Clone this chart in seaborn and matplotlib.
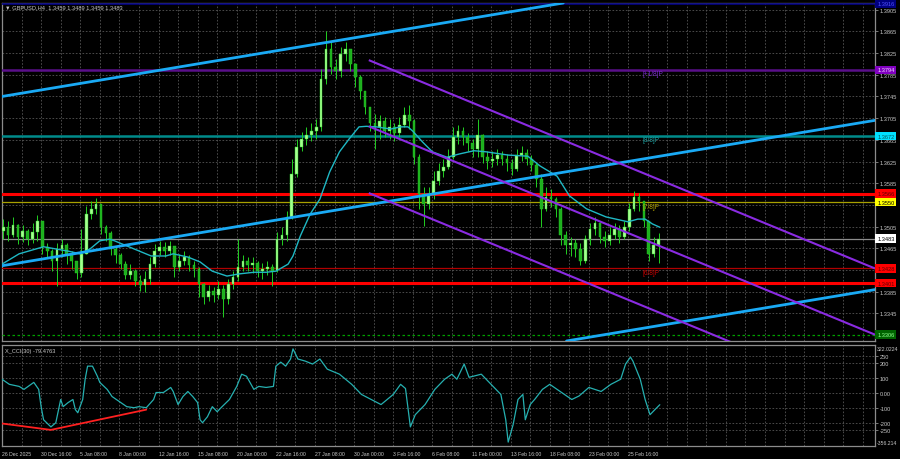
import matplotlib
matplotlib.use("Agg")
import matplotlib.pyplot as plt
import matplotlib.transforms as mtransforms
import numpy as np
import pandas as pd
import seaborn as sns

# ---- values ----
# candles are drawn as 8h blocks (2 H4 bars each), open = previous close
first_open = 1.3497
closes = [1.3504, 1.3490, 1.3508, 1.3486, 1.3497, 1.3482, 1.3495, 1.3516, 1.3468, 1.3460,
          1.3442, 1.3464, 1.3471, 1.3453, 1.3442, 1.3420, 1.3455, 1.3528, 1.3538, 1.3547,
          1.3504, 1.3493, 1.3464, 1.3453, 1.3436, 1.3416, 1.3423, 1.3405, 1.3397, 1.3409,
          1.3436, 1.3460, 1.3468, 1.3460, 1.3469, 1.3431, 1.3442, 1.3449, 1.3434, 1.3427,
          1.3399, 1.3375, 1.3386, 1.3379, 1.3390, 1.3372, 1.3399, 1.3412, 1.3431, 1.3442,
          1.3434, 1.3438, 1.3423, 1.3427, 1.3431, 1.3423, 1.3482, 1.3490, 1.3523, 1.3602,
          1.3652, 1.3667, 1.3674, 1.3681, 1.3689, 1.3777, 1.3833, 1.3799, 1.3792, 1.3823,
          1.3833, 1.3805, 1.3781, 1.3755, 1.3726, 1.3696, 1.3689, 1.3700, 1.3681, 1.3689,
          1.3678, 1.3692, 1.3711, 1.3700, 1.3633, 1.3565, 1.3547, 1.3565, 1.3589, 1.3608,
          1.3615, 1.3633, 1.3670, 1.3681, 1.3670, 1.3659, 1.3648, 1.3674, 1.3633, 1.3626,
          1.3630, 1.3637, 1.3630, 1.3622, 1.3611, 1.3637, 1.3641, 1.3630, 1.3619, 1.3593,
          1.3538, 1.3560, 1.3556, 1.3538, 1.3490, 1.3471, 1.3475, 1.3464, 1.3442, 1.3482,
          1.3501, 1.3512, 1.3486, 1.3479, 1.3490, 1.3501, 1.3486, 1.3504, 1.3538, 1.3560,
          1.3552, 1.3516, 1.3455, 1.3471, 1.3483]
highs = [1.3519, 1.3516, 1.3523, 1.3510, 1.3508, 1.3501, 1.3512, 1.3527, 1.3490, 1.3475,
         1.3464, 1.3475, 1.3482, 1.3475, 1.3460, 1.3442, 1.3501, 1.3543, 1.3552, 1.3558,
         1.3538, 1.3508, 1.3497, 1.3468, 1.3456, 1.3442, 1.3436, 1.3427, 1.3416, 1.3423,
         1.3449, 1.3473, 1.3479, 1.3477, 1.3479, 1.3468, 1.3455, 1.3460, 1.3453, 1.3442,
         1.3431, 1.3401, 1.3397, 1.3394, 1.3405, 1.3397, 1.3409, 1.3423, 1.3482, 1.3453,
         1.3449, 1.3449, 1.3442, 1.3438, 1.3442, 1.3436, 1.3495, 1.3504, 1.3534, 1.3630,
         1.3667, 1.3680, 1.3689, 1.3696, 1.3703, 1.3796, 1.3866, 1.3847, 1.3814, 1.3836,
         1.3845, 1.3829, 1.3807, 1.3785, 1.3755, 1.3726, 1.3713, 1.3711, 1.3707, 1.3703,
         1.3696, 1.3707, 1.3726, 1.3729, 1.3703, 1.3639, 1.3578, 1.3578, 1.3608, 1.3622,
         1.3630, 1.3648, 1.3689, 1.3692, 1.3689, 1.3678, 1.3667, 1.3703, 1.3676, 1.3645,
         1.3645, 1.3648, 1.3645, 1.3639, 1.3630, 1.3648, 1.3654, 1.3648, 1.3637, 1.3622,
         1.3602, 1.3578, 1.3575, 1.3560, 1.3541, 1.3497, 1.3486, 1.3482, 1.3475, 1.3490,
         1.3512, 1.3523, 1.3512, 1.3497, 1.3504, 1.3512, 1.3508, 1.3516, 1.3549, 1.3571,
         1.3567, 1.3552, 1.3516, 1.3486, 1.3493]
lows = [1.3482, 1.3479, 1.3486, 1.3473, 1.3477, 1.3471, 1.3475, 1.3479, 1.3455, 1.3449,
        1.3423, 1.3396, 1.3449, 1.3436, 1.3427, 1.3409, 1.3412, 1.3455, 1.3519, 1.3528,
        1.3492, 1.3479, 1.3453, 1.3438, 1.3427, 1.3409, 1.3409, 1.3396, 1.3386, 1.3385,
        1.3399, 1.3431, 1.3453, 1.3449, 1.3453, 1.3412, 1.3423, 1.3434, 1.3423, 1.3412,
        1.3375, 1.3362, 1.3368, 1.3366, 1.3372, 1.3338, 1.3362, 1.3390, 1.3405, 1.3423,
        1.3423, 1.3420, 1.3412, 1.3409, 1.3416, 1.3396, 1.3421, 1.3471, 1.3479, 1.3519,
        1.3597, 1.3645, 1.3656, 1.3663, 1.3667, 1.3681, 1.3768, 1.3786, 1.3777, 1.3781,
        1.3810, 1.3792, 1.3762, 1.3740, 1.3713, 1.3681, 1.3648, 1.3667, 1.3670, 1.3667,
        1.3663, 1.3670, 1.3689, 1.3685, 1.3621, 1.3538, 1.3506, 1.3538, 1.3556, 1.3582,
        1.3597, 1.3611, 1.3630, 1.3657, 1.3656, 1.3645, 1.3633, 1.3633, 1.3622, 1.3611,
        1.3615, 1.3619, 1.3619, 1.3608, 1.3600, 1.3608, 1.3626, 1.3619, 1.3608, 1.3578,
        1.3504, 1.3534, 1.3541, 1.3523, 1.3471, 1.3455, 1.3451, 1.3449, 1.3434, 1.3438,
        1.3471, 1.3490, 1.3475, 1.3468, 1.3471, 1.3482, 1.3475, 1.3482, 1.3497, 1.3534,
        1.3534, 1.3504, 1.3442, 1.3449, 1.3438]
candle_step = 2  # H4 bars per drawn candle

# moving average (cyan line), bar index -> price
ma_bar = [0, 7, 17, 22, 27, 32, 36, 40, 44, 46, 54, 61, 67, 70, 76, 81, 86, 92, 97, 103,
          108, 112, 117, 119, 122, 126, 130, 134, 138, 142, 146, 149, 153, 159, 163, 166, 168, 172, 176, 182,
          187, 193, 198, 207, 215, 220, 227, 232, 239, 247, 256, 260, 263, 266, 269]
ma_val = [1.3436, 1.3455, 1.3468, 1.3464, 1.3460, 1.3455, 1.3464, 1.3479, 1.3482, 1.3479,
          1.3464, 1.3451, 1.3451, 1.3455, 1.3449, 1.3440, 1.3423, 1.3414, 1.3418, 1.3421,
          1.3421, 1.3423, 1.3436, 1.3451, 1.3488, 1.3528, 1.3556, 1.3606, 1.3643, 1.3667,
          1.3689, 1.3690, 1.3689, 1.3685, 1.3689, 1.3689, 1.3681, 1.3661, 1.3643, 1.3633,
          1.3639, 1.3645, 1.3643, 1.3637, 1.3635, 1.3617, 1.3598, 1.3562, 1.3538, 1.3523,
          1.3514, 1.3519, 1.3519, 1.3510, 1.3504]

# CCI sub-window
cci_bar = [0, 3, 7, 9, 13, 15, 16, 17, 20, 22, 24, 25, 27, 29, 30, 31, 33, 34, 35, 37,
           39, 40, 43, 45, 48, 51, 54, 56, 59, 62, 63, 66, 69, 70, 72, 74, 76, 78, 80, 81,
           82, 84, 86, 88, 90, 93, 96, 98, 100, 103, 105, 108, 111, 112, 114, 116, 118, 119, 121, 124,
           127, 130, 133, 138, 143, 147, 151, 155, 160, 163, 165, 167, 169, 173, 177, 181, 184, 186, 189, 191,
           196, 200, 204, 206, 207, 209, 211, 213, 214, 216, 218, 221, 224, 227, 230, 233, 236, 240, 245, 249,
           253, 255, 257, 258, 261, 263, 265, 267, 269]
cci_val = [92, 58, 44, 24, 71, 24, -92, -180, -228, -200, -44, -92, -65, -44, -112, -133, -44, 92, 180, 180,
           112, 71, 24, -24, -58, -92, -99, -92, -99, -44, 3, 3, 37, 10, -78, -24, 10, -24, -65, -180,
           -200, -160, -92, -126, -92, -44, 44, 126, 112, 24, 44, 37, 44, 180, 207, 180, 228, 296, 228, 214,
           194, 228, 160, 126, 58, -10, -44, -78, -10, 58, 30, -228, -146, -78, 24, 92, 126, 92, 194, 105,
           126, 58, -10, -180, -330, -214, -44, -10, -180, -78, -40, 24, 58, 24, -10, -44, -20, 37, 10, 58,
           92, 194, 241, 214, 92, -44, -146, -112, -79]
cci_trend_bar = [-1, 20, 59]
cci_trend_val = [-203, -248, -112]
cci_ticks = [250, 200, 100, 0, -100, -200, -250]
cci_max, cci_min = 322.0224, -356.214

# trend channels (two anchor points each, bar index -> price)
blue_bar = [0, 357]
blue_upper = [1.3745, 1.4013]
blue_mid = [1.3433, 1.3701]
blue_lower = [1.3121, 1.3389]
purple_bar = [150, 357]
purple_upper = [1.3812, 1.3428]
purple_mid = [1.3690, 1.3306]
purple_lower = [1.3567, 1.3183]

# horizontal levels and Murrey labels
level_price = [1.3916, 1.3794, 1.3672, 1.3566, 1.3550, 1.3483, 1.3428, 1.3401, 1.3306]
murrey_price = [1.3794, 1.3672, 1.3550, 1.3428]
murrey_text = ["[+1/8]P", "[8/8]P", "[7/8]P", "[6/8]P"]

price_ticks = [1.3905, 1.3865, 1.3825, 1.3785, 1.3745, 1.3705, 1.3665, 1.3625,
               1.3585, 1.3545, 1.3505, 1.3465, 1.3425, 1.3385, 1.3345]
date_labels = ["26 Dec 2025", "30 Dec 16:00", "5 Jan 08:00", "8 Jan 00:00", "12 Jan 16:00",
               "15 Jan 08:00", "20 Jan 00:00", "22 Jan 16:00", "27 Jan 08:00", "30 Jan 00:00",
               "3 Feb 16:00", "6 Feb 08:00", "11 Feb 00:00", "13 Feb 16:00", "18 Feb 08:00",
               "23 Feb 00:00", "25 Feb 16:00"]
header = "\u25bc GBPUSD,H4  1.3459 1.3489 1.3459 1.3483"
cci_header = "X_CCI(30) -79.4763"

# ---- styles ----
level_style = {
    1.3916: dict(color="#000080", lw=1.2, ls="-"),
    1.3794: dict(color="#5a0f8a", lw=1.8, ls="-"),
    1.3672: dict(color="#008b8b", lw=1.8, ls="-"),
    1.3566: dict(color="#ff0000", lw=2.2, ls="-"),
    1.3550: dict(color="#a8a000", lw=0.9, ls="-"),
    1.3483: dict(color="#8c8c8c", lw=0.9, ls="-"),
    1.3428: dict(color="#b00000", lw=0.9, ls="-"),
    1.3401: dict(color="#ff0000", lw=2.2, ls="-"),
    1.3306: dict(color="#00a000", lw=0.9, ls=(0, (2, 2))),
}
box_style = {  # face, text
    1.3916: ("#00007f", "#5050ff"),
    1.3794: ("#8000c0", "#f0d8ff"),
    1.3672: ("#00e0ff", "#005a5a"),
    1.3566: ("#ff0000", "#600000"),
    1.3550: ("#ffff00", "#000000"),
    1.3483: ("#ffffff", "#000000"),
    1.3428: ("#ff0000", "#600000"),
    1.3401: ("#ff0000", "#600000"),
    1.3306: ("#006400", "#90ff90"),
}
hidden_ticks = [1.3545, 1.3425]  # sit under the level boxes
murrey_color = ["#7a2ccc", "#1aa0a0", "#b8a800", "#cc0000"]
TXT = "#c8c8c8"
GRID = "#555555"
SPINE = "#8c8c8c"
FS = 4.1
FS_DATE = 3.7

sns.set_theme(style="dark")
plt.rcParams['font.family'] = ['Liberation Sans Narrow', 'Liberation Sans', 'DejaVu Sans']
plt.rcParams['axes.unicode_minus'] = False

fig = plt.figure(figsize=(9, 4.6), dpi=100, facecolor="black")
ax = fig.add_axes([2 / 900, 1 - 342 / 460, 873 / 900, 338 / 460])
axc = fig.add_axes([2 / 900, 1 - 447 / 460, 873 / 900, 101 / 460])

xmax = 357
for a in (ax, axc):
    a.set_facecolor("black")
    a.set_xlim(0, xmax)
    for s in a.spines.values():
        s.set_color(SPINE)
        s.set_linewidth(0.9)
    a.set_xticks(range(0, xmax, 8))
    a.grid(True, color=GRID, ls=(0, (2, 2)), lw=0.6)
    a.yaxis.tick_right()
    a.tick_params(axis="y", colors=SPINE, labelcolor=TXT, labelsize=FS, length=2, pad=1.5, width=0.6)
    a.set_xlabel("")
    a.set_ylabel("")

# ---- main price panel ----
ax.set_ylim(1.32943, 1.39173)
ax.set_yticks(price_ticks)
ax.set_yticklabels(["" if p in hidden_ticks else f"{p:.4f}" for p in price_ticks])
ax.tick_params(axis="x", length=0, labelbottom=False)

candles = pd.DataFrame({"close": closes, "high": highs, "low": lows})
candles["open"] = [first_open] + closes[:-1]
candles["bar"] = np.arange(len(candles)) * candle_step + 0.5
up = candles["close"] >= candles["open"]

ax.vlines(candles["bar"], candles["low"], candles["high"], color="#22d022", lw=0.7, zorder=4)
body_lo = candles[["open", "close"]].min(axis=1)
body_h = (candles["close"] - candles["open"]).abs().clip(lower=0.00008)
ax.bar(candles["bar"][up], body_h[up], bottom=body_lo[up], width=1.1,
       color="#a6ff90", edgecolor="#22d022", lw=0.3, zorder=5)
ax.bar(candles["bar"][~up], body_h[~up], bottom=body_lo[~up], width=1.1,
       color="#1fae1f", edgecolor="#22d022", lw=0.3, zorder=5)

sns.lineplot(x=ma_bar, y=ma_val, ax=ax, color="#1fb8c4", lw=1.0, sort=False, zorder=6)

for p in level_price:
    ax.axhline(p, zorder=3, **level_style[p])

for ys in (blue_upper, blue_mid, blue_lower):
    ax.axline((blue_bar[0], ys[0]), (blue_bar[1], ys[1]), color="#1aaaf5", lw=2.0, zorder=7)
for ys in (purple_upper, purple_mid, purple_lower):
    ax.plot(purple_bar, ys, color="#8a2be2", lw=1.5, zorder=7, solid_capstyle="butt")

for p, t, c in zip(murrey_price, murrey_text, murrey_color):
    ax.text(262, p - 0.0007, t, color=c, fontsize=FS + 0.6, va="center", ha="left", zorder=8)

ax.text(0.004, 0.995, header, transform=ax.transAxes, color=TXT, fontsize=FS,
        va="top", ha="left", zorder=9)

trans = mtransforms.blended_transform_factory(ax.transAxes, ax.transData)
for p in level_price:
    fc, tc = box_style[p]
    ax.text(1.0025, p, f"{p:.4f}", transform=trans, color=tc, fontsize=FS, va="center", ha="left",
            clip_on=False, zorder=10,
            bbox=dict(boxstyle="square,pad=0.3", fc=fc, ec="none"))

# ---- CCI panel ----
axc.set_ylim(cci_min, cci_max)
axc.set_yticks(cci_ticks)
axc.set_yticklabels(["0.00" if v == 0 else str(v) for v in cci_ticks])
sns.lineplot(x=cci_bar, y=cci_val, ax=axc, color="#26b0b0", lw=0.9, sort=False, zorder=4)
axc.plot(cci_trend_bar, cci_trend_val, color="#ff2020", lw=1.3, zorder=5)
axc.text(0.004, 0.97, cci_header, transform=axc.transAxes, color=TXT, fontsize=FS,
         va="top", ha="left")
ctrans = mtransforms.blended_transform_factory(axc.transAxes, axc.transData)
axc.text(1.002, cci_max - 22, f"{cci_max}", transform=ctrans, color=TXT, fontsize=3.7,
         va="center", ha="left", clip_on=False)
axc.text(1.002, cci_min + 25, f"{cci_min}", transform=ctrans, color=TXT, fontsize=3.7,
         va="center", ha="left", clip_on=False)

xt = list(range(0, xmax, 8))
axc.set_xticklabels([date_labels[i // 16] if i % 16 == 0 and i // 16 < len(date_labels) else ""
                     for i in xt])
axc.tick_params(axis="x", colors=SPINE, labelcolor=TXT, labelsize=FS_DATE, length=2, pad=1.5, width=0.6)
for lbl in axc.get_xticklabels():
    lbl.set_horizontalalignment("left")

fig.savefig("out.png", dpi=100, facecolor="black")
